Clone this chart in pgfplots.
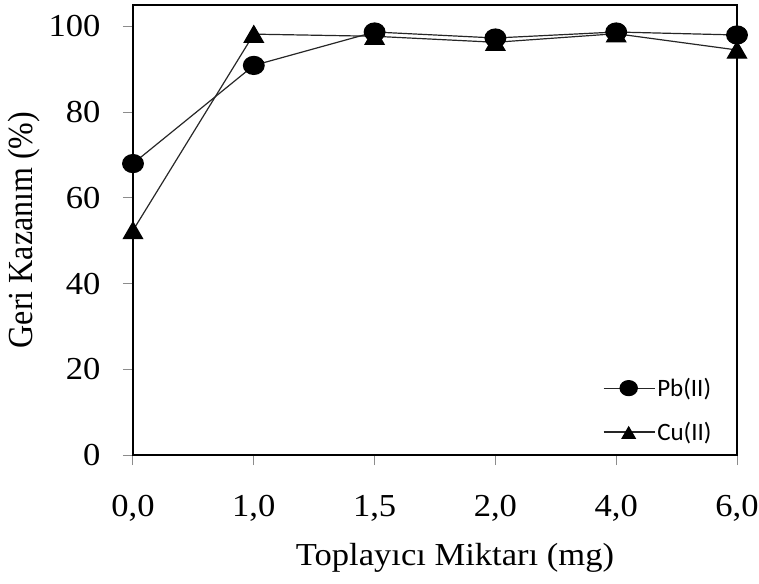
\documentclass[border=0pt]{standalone}
\usepackage{pgfplots}
\pgfplotsset{compat=1.18}
\usepackage{fontspec}
\setmainfont[FakeStretch=1.08]{Liberation Serif}
\newfontfamily\plainserif{Liberation Serif}
\newfontfamily\legendfont{Carlito}

\begin{document}
\begin{tikzpicture}
\path[use as bounding box] (-133pt,-128pt) rectangle (626pt,455pt);
\begin{axis}[
  at={(0pt,0pt)}, anchor=south west,
  scale only axis,
  width=604pt, height=450pt,
  xmin=0, xmax=5,
  ymin=0, ymax=105,
  clip=false,
  axis line style={black, line width=1.8pt},
  xtick={0,1,2,3,4,5},
  xticklabels={{0,0},{1,0},{1,5},{2,0},{4,0},{6,0}},
  ytick={0,20,40,60,80,100},
  tick align=outside,
  xtick pos=bottom, ytick pos=left,
  major tick length=10pt,
  tick style={black!45, line width=1pt},
  /pgf/number format/assume math mode=true,
  ticklabel style={font=\fontsize{32}{38}\selectfont},
  xticklabel style={yshift=-27pt},
  yticklabel style={xshift=-19pt},
  xlabel={Toplayıcı Miktarı (mg)},
  xlabel style={font=\fontsize{32}{38}\selectfont, xshift=20pt, yshift=-15pt},
  ylabel={\scalebox{1}[1.1]{\plainserif Geri Kazanım (\%)}},
  ylabel style={font=\fontsize{32}{38}\selectfont, yshift=2pt},
  legend style={
    at={(0.773,0.02)}, anchor=south west,
    draw=none, fill=none,
    font=\legendfont\fontsize{25}{29}\selectfont,
    row sep=20pt,
    /tikz/every even column/.append style={column sep=5pt},
  },
  legend cell align=left,
  legend image code/.code={
    \draw[mark repeat=2, mark phase=2, #1, mark size=7.5pt]
      plot coordinates {(0pt,0pt) (25pt,0pt) (51pt,0pt)};
  },
]
% Pb(II)
\addplot[black!85, line width=1.2pt, mark=*,
  mark options={solid, fill=black, draw=black, xscale=1.15}, mark size=9pt]
  coordinates {(0,68.0) (1,90.9) (2,98.7) (3,97.3) (4,98.7) (5,98.0)};
\addlegendentry{Pb(II)}
% Cu(II)
\addplot[black!85, line width=1.2pt, mark=triangle*,
  mark options={solid, fill=black, draw=black, yshift=-2.6pt}, mark size=11pt]
  coordinates {(0,52.4) (1,98.2) (2,97.7) (3,96.3) (4,98.3) (5,94.5)};
\addlegendentry{Cu(II)}
\end{axis}
\end{tikzpicture}
\end{document}
